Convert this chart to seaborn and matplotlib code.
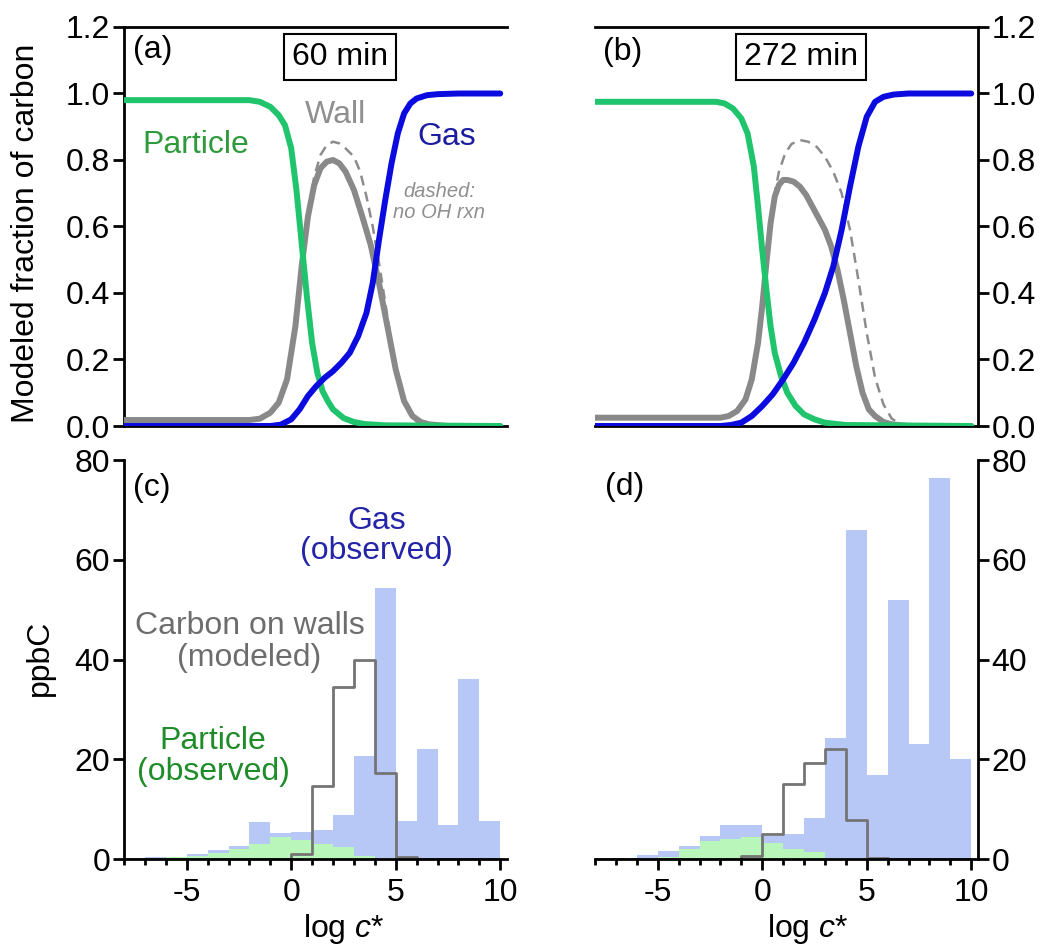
import matplotlib
matplotlib.use("Agg")
import matplotlib.pyplot as plt
import seaborn as sns
import numpy as np
from matplotlib.ticker import FixedLocator, FormatStrFormatter

# ------------------------------------------------------------------ data
# (a) 60 min  -- modeled fraction of carbon vs log c*
a_particle_x = [-8, -2, -1.5, -1.0, -0.6, -0.3, 0.0, 0.25, 0.5, 0.75, 1.0, 1.25, 1.5, 1.75, 2.0, 2.5, 3.0, 3.5, 4.5, 10]
a_particle_y = [0.98, 0.98, 0.975, 0.96, 0.935, 0.905, 0.835, 0.71, 0.55, 0.39, 0.25, 0.16, 0.105, 0.075, 0.05, 0.024, 0.012, 0.006, 0.002, 0.0]

a_wall_x = [-8, -2, -1.5, -1.0, -0.6, -0.2, 0.2, 0.5, 0.8, 1.1, 1.4, 1.7, 2.0, 2.3, 2.6, 3.0, 3.4, 3.8, 4.2, 4.6, 5.0, 5.4, 5.8, 6.2, 6.6, 7.5, 10]
a_wall_y = [0.018, 0.018, 0.022, 0.04, 0.07, 0.14, 0.30, 0.48, 0.63, 0.725, 0.775, 0.795, 0.80, 0.79, 0.765, 0.71, 0.63, 0.545, 0.43, 0.30, 0.17, 0.075, 0.03, 0.012, 0.005, 0.0, 0.0]

a_nooh_x = [-8, -2, -1.5, -1.0, -0.6, -0.2, 0.2, 0.5, 0.8, 1.1, 1.4, 1.7, 2.0, 2.3, 2.6, 3.0, 3.3, 3.6, 3.9, 4.2, 4.5, 4.8, 5.1, 5.4, 5.7, 6.0, 6.4, 7.0]
a_nooh_y = [0.018, 0.018, 0.022, 0.04, 0.07, 0.14, 0.30, 0.48, 0.64, 0.75, 0.815, 0.845, 0.855, 0.85, 0.835, 0.81, 0.765, 0.69, 0.60, 0.49, 0.37, 0.25, 0.15, 0.08, 0.035, 0.013, 0.004, 0.0]

a_gas_x = [-8, -1.0, -0.5, 0.0, 0.4, 0.8, 1.2, 1.6, 2.0, 2.4, 2.8, 3.2, 3.6, 3.9, 4.2, 4.5, 4.8, 5.1, 5.4, 5.7, 6.0, 6.5, 7.0, 8.0, 10]
a_gas_y = [0.0, 0.0, 0.004, 0.02, 0.05, 0.09, 0.12, 0.145, 0.165, 0.19, 0.22, 0.27, 0.34, 0.43, 0.56, 0.68, 0.79, 0.88, 0.94, 0.97, 0.985, 0.995, 0.998, 1.0, 1.0]

# (b) 272 min
b_particle_x = [-8, -2.2, -1.8, -1.4, -1.0, -0.7, -0.4, -0.2, 0.0, 0.2, 0.4, 0.6, 0.9, 1.2, 1.6, 2.0, 2.5, 3.0, 4.0, 10]
b_particle_y = [0.975, 0.975, 0.97, 0.955, 0.925, 0.88, 0.78, 0.66, 0.53, 0.41, 0.30, 0.22, 0.15, 0.10, 0.06, 0.035, 0.02, 0.01, 0.003, 0.0]

b_wall_x = [-8, -2.0, -1.6, -1.2, -0.8, -0.5, -0.2, 0.0, 0.2, 0.4, 0.6, 0.8, 1.0, 1.2, 1.5, 1.8, 2.1, 2.4, 2.7, 3.0, 3.3, 3.6, 3.9, 4.2, 4.5, 4.8, 5.1, 5.4, 5.8, 6.2, 7.0, 10]
b_wall_y = [0.025, 0.025, 0.03, 0.045, 0.08, 0.14, 0.25, 0.36, 0.49, 0.61, 0.69, 0.725, 0.74, 0.74, 0.735, 0.72, 0.695, 0.66, 0.625, 0.59, 0.54, 0.47, 0.38, 0.28, 0.18, 0.10, 0.05, 0.03, 0.012, 0.005, 0.0, 0.0]

b_nooh_x = [-8, -2.0, -1.6, -1.2, -0.8, -0.5, -0.2, 0.0, 0.2, 0.4, 0.6, 0.8, 1.1, 1.4, 1.8, 2.2, 2.6, 3.0, 3.4, 3.8, 4.2, 4.6, 5.0, 5.4, 5.8, 6.2, 6.6, 7.0]
b_nooh_y = [0.025, 0.025, 0.03, 0.045, 0.08, 0.14, 0.25, 0.36, 0.49, 0.61, 0.70, 0.765, 0.82, 0.848, 0.86, 0.855, 0.84, 0.81, 0.765, 0.70, 0.59, 0.44, 0.28, 0.145, 0.065, 0.022, 0.006, 0.0]

b_gas_x = [-8, -2.0, -1.5, -1.0, -0.5, 0.0, 0.5, 1.0, 1.5, 2.0, 2.5, 3.0, 3.4, 3.8, 4.2, 4.6, 5.0, 5.4, 5.8, 6.3, 7.0, 10]
b_gas_y = [0.0, 0.0, 0.003, 0.01, 0.03, 0.06, 0.095, 0.14, 0.19, 0.25, 0.32, 0.40, 0.48, 0.59, 0.72, 0.84, 0.93, 0.975, 0.99, 0.997, 1.0, 1.0]

# (c), (d) ppbC per log c* bin (bins -8..-7, -7..-6, ..., 9..10)
bin_edges = list(range(-8, 11))
c_gas      = [0.3, 0.4, 0.5, 1.0, 1.8, 2.7, 7.4, 5.2, 5.4, 5.8, 8.9, 20.6, 54.4, 7.6, 22.0, 6.8, 36.1, 7.6]
c_particle = [0.15, 0.2, 0.35, 0.6, 1.2, 2.1, 3.1, 4.4, 3.8, 3.1, 2.5, 0.7, 0.3, 0.15, 0.1, 0.05, 0.05, 0.05]
c_wall     = [0, 0, 0, 0, 0, 0, 0, 0, 1.0, 14.6, 34.4, 40.0, 17.2, 0.4, 0.1, 0, 0, 0]

d_gas      = [0.2, 0.3, 0.8, 1.6, 2.7, 4.6, 6.9, 6.9, 4.7, 5.1, 8.3, 24.3, 66.0, 16.8, 52.0, 23.0, 76.4, 20.0]
d_particle = [0.1, 0.15, 0.3, 0.5, 2.0, 3.6, 4.1, 4.5, 3.2, 2.0, 1.4, 0.3, 0.1, 0.05, 0.05, 0.0, 0.0, 0.0]
d_wall     = [0, 0, 0, 0, 0, 0, 0, 0.7, 5.1, 15.0, 19.2, 22.0, 7.8, 0.25, 0.1, 0, 0, 0]

frac_ticks = [0.0, 0.2, 0.4, 0.6, 0.8, 1.0, 1.2]
ppbc_ticks = [0, 20, 40, 60, 80]
x_major = [-5, 0, 5, 10]

# ------------------------------------------------------------------ style
sns.set_style("ticks")
plt.rcParams["font.family"] = ["Liberation Sans", "DejaVu Sans"]
plt.rcParams["mathtext.fontset"] = "custom"
plt.rcParams["mathtext.rm"] = "Liberation Sans"
plt.rcParams["mathtext.it"] = "Liberation Sans:italic"
plt.rcParams["axes.unicode_minus"] = False
for key in ("text.color", "axes.labelcolor", "xtick.color", "ytick.color", "axes.edgecolor"):
    plt.rcParams[key] = "black"

FS = 23
GREEN = "#1fc46c"
BLUE = "#0b0be0"
GRAY = "#898989"
GAS_BAR = "#b8c8f6"
PART_BAR = "#b9f6b9"
WALL_STEP = "#747474"
SPW = 2.0

fig = plt.figure(figsize=(10.5, 9.47), dpi=100)
W = 382.5 / 1050
H = 399 / 947
ax_a = fig.add_axes([124 / 1050, 1 - 426 / 947, W, H])
ax_b = fig.add_axes([595 / 1050, 1 - 426 / 947, W, H])
ax_c = fig.add_axes([124 / 1050, 1 - 859 / 947, W, H])
ax_d = fig.add_axes([595 / 1050, 1 - 859 / 947, W, H])

XL = (-8, 10.3)


def curves(ax, px, py, wx, wy, nx, ny, gx, gy):
    sns.lineplot(x=nx, y=ny, ax=ax, color="#8c8c8c", linewidth=1.8,
                 linestyle=(0, (4, 2.6)), estimator=None, zorder=2)
    sns.lineplot(x=wx, y=wy, ax=ax, color=GRAY, linewidth=4.3, estimator=None, zorder=3)
    sns.lineplot(x=px, y=py, ax=ax, color=GREEN, linewidth=4.3, estimator=None, zorder=4)
    sns.lineplot(x=gx, y=gy, ax=ax, color=BLUE, linewidth=4.3, estimator=None, zorder=5)
    ax.set_xlim(*XL)
    ax.set_ylim(0, 1.2)
    ax.set_xlabel("")
    ax.set_ylabel("")
    ax.set_xticks([])
    ax.yaxis.set_major_locator(FixedLocator(frac_ticks))
    ax.yaxis.set_major_formatter(FormatStrFormatter("%.1f"))
    for s in ax.spines.values():
        s.set_linewidth(SPW)
        s.set_color("black")


def hists(ax, gas, part, wall):
    centers = [e + 0.5 for e in bin_edges[:-1]]
    sns.histplot(x=centers, weights=gas, bins=bin_edges, ax=ax, element="bars",
                 fill=True, color=GAS_BAR, alpha=1, linewidth=0, zorder=1)
    sns.histplot(x=centers, weights=part, bins=bin_edges, ax=ax, element="bars",
                 fill=True, color=PART_BAR, alpha=1, linewidth=0, zorder=1.5)
    sns.histplot(x=centers, weights=wall, bins=bin_edges, ax=ax, element="step",
                 fill=False, color=WALL_STEP, linewidth=2.0, zorder=2)
    ax.set_xlim(*XL)
    ax.set_ylim(0, 80)
    ax.set_xlabel("")
    ax.set_ylabel("")
    ax.xaxis.set_major_locator(FixedLocator(x_major))
    ax.xaxis.set_minor_locator(FixedLocator([v for v in range(-8, 11) if v not in x_major]))
    ax.yaxis.set_major_locator(FixedLocator(ppbc_ticks))
    ax.tick_params(axis="x", which="major", length=8, width=SPW, direction="out", pad=6)
    ax.tick_params(axis="x", which="minor", length=4, width=SPW, direction="out")
    for s in ax.spines.values():
        s.set_linewidth(SPW)
        s.set_color("black")


curves(ax_a, a_particle_x, a_particle_y, a_wall_x, a_wall_y, a_nooh_x, a_nooh_y, a_gas_x, a_gas_y)
curves(ax_b, b_particle_x, b_particle_y, b_wall_x, b_wall_y, b_nooh_x, b_nooh_y, b_gas_x, b_gas_y)
hists(ax_c, c_gas, c_particle, c_wall)
hists(ax_d, d_gas, d_particle, d_wall)

# spines / ticks
ax_a.spines["right"].set_visible(False)
ax_b.spines["left"].set_visible(False)
ax_c.spines["top"].set_visible(False)
ax_c.spines["right"].set_visible(False)
ax_d.spines["top"].set_visible(False)
ax_d.spines["left"].set_visible(False)

for ax in (ax_a, ax_c):
    ax.tick_params(axis="y", left=True, right=False, labelleft=True, labelright=False,
                   length=8, width=SPW, pad=2, labelsize=FS, colors="black")
for ax in (ax_b, ax_d):
    ax.yaxis.tick_right()
    ax.tick_params(axis="y", left=False, right=True, labelleft=False, labelright=True,
                   length=8, width=SPW, pad=2, labelsize=FS, colors="black")
for ax in (ax_c, ax_d):
    ax.tick_params(axis="x", which="both", labelsize=FS, colors="black", top=False)

# axis labels
ax_a.text(-0.255, 0.484, "Modeled fraction of carbon", rotation=90, ha="center", va="center",
          fontsize=FS, transform=ax_a.transAxes)
ax_c.text(-0.22, 0.503, "ppbC", rotation=90, ha="center", va="center",
          fontsize=FS, transform=ax_c.transAxes)
ax_c.text(2.5, -15.7, "log $c$*", ha="center", va="baseline", fontsize=FS)
ax_d.text(2.2, -15.7, "log $c$*", ha="center", va="baseline", fontsize=FS)

# panel annotations
ax_a.text(-7.57, 1.13, "(a)", ha="left", va="center", fontsize=FS)
ax_b.text(-7.64, 1.125, "(b)", ha="left", va="center", fontsize=FS)
ax_c.text(-7.56, 74.3, "(c)", ha="left", va="center", fontsize=FS)
ax_d.text(-7.5, 74.5, "(d)", ha="left", va="center", fontsize=FS)

box = dict(boxstyle="square,pad=0.25", facecolor="white", edgecolor="black", linewidth=1.5)
ax_a.text(2.34, 1.11, "60 min", ha="center", va="center", fontsize=FS, bbox=box, zorder=6)
ax_b.text(1.875, 1.11, "272 min", ha="center", va="center", fontsize=FS, bbox=box, zorder=6)

ax_a.text(-4.59, 0.845, "Particle", ha="center", va="center", fontsize=FS, color="#2e9a3c")
ax_a.text(2.1, 0.935, "Wall", ha="center", va="center", fontsize=FS, color="#8f8f8f")
ax_a.text(7.46, 0.87, "Gas", ha="center", va="center", fontsize=FS, color="#1c1c9e")
ax_a.text(7.08, 0.674, "dashed:\nno OH rxn", ha="center", va="center", fontsize=14.5,
          color="#8f8f8f", style="italic", linespacing=1.1)

ax_c.text(4.07, 64.7, "Gas\n(observed)", ha="center", va="center", fontsize=FS,
          color="#2424a8", linespacing=1.0)
ax_c.text(-2.0, 43.5, "Carbon on walls\n(modeled)", ha="center", va="center", fontsize=FS,
          color="#6d6d6d", linespacing=1.05)
ax_c.text(-3.73, 20.6, "Particle\n(observed)", ha="center", va="center", fontsize=FS,
          color="#1e8c28", linespacing=1.05)

fig.savefig("out.png", dpi=100)
